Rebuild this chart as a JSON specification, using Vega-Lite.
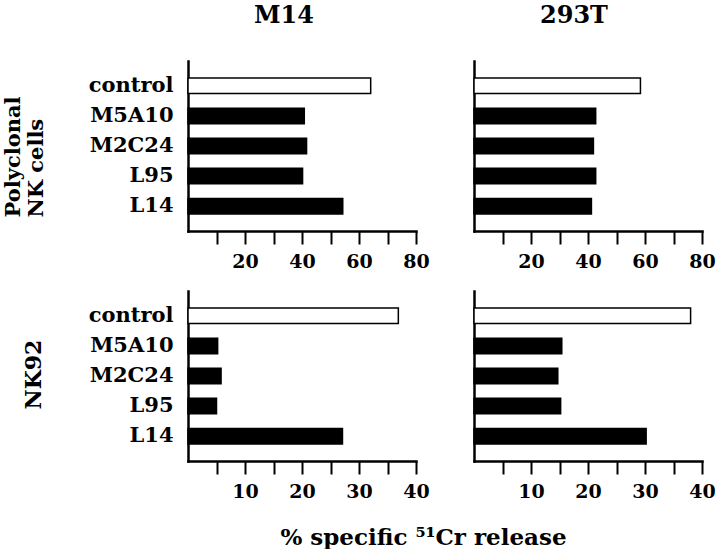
{
  "$schema": "https://vega.github.io/schema/vega-lite/v6.json",
  "background": "white",
  "padding": {"left": 2, "top": 4, "right": 0, "bottom": 0},
  "datasets": {
    "all": [
      {"effector": "Polyclonal", "target": "M14", "antibody": "control", "value": 64.1},
      {"effector": "Polyclonal", "target": "M14", "antibody": "M5A10", "value": 40.8},
      {"effector": "Polyclonal", "target": "M14", "antibody": "M2C24", "value": 41.6},
      {"effector": "Polyclonal", "target": "M14", "antibody": "L95", "value": 40.2},
      {"effector": "Polyclonal", "target": "M14", "antibody": "L14", "value": 54.3},
      {"effector": "Polyclonal", "target": "293T", "antibody": "control", "value": 58.4},
      {"effector": "Polyclonal", "target": "293T", "antibody": "M5A10", "value": 42.7},
      {"effector": "Polyclonal", "target": "293T", "antibody": "M2C24", "value": 41.9},
      {"effector": "Polyclonal", "target": "293T", "antibody": "L95", "value": 42.7},
      {"effector": "Polyclonal", "target": "293T", "antibody": "L14", "value": 41.2},
      {"effector": "NK92", "target": "M14", "antibody": "control", "value": 36.9},
      {"effector": "NK92", "target": "M14", "antibody": "M5A10", "value": 5.2},
      {"effector": "NK92", "target": "M14", "antibody": "M2C24", "value": 5.8},
      {"effector": "NK92", "target": "M14", "antibody": "L95", "value": 5.0},
      {"effector": "NK92", "target": "M14", "antibody": "L14", "value": 27.1},
      {"effector": "NK92", "target": "293T", "antibody": "control", "value": 38.0},
      {"effector": "NK92", "target": "293T", "antibody": "M5A10", "value": 15.4},
      {"effector": "NK92", "target": "293T", "antibody": "M2C24", "value": 14.7},
      {"effector": "NK92", "target": "293T", "antibody": "L95", "value": 15.2},
      {"effector": "NK92", "target": "293T", "antibody": "L14", "value": 30.2}
    ]
  },
  "columns": 2,
  "spacing": {"row": 60, "column": 58},
  "bounds": "flush",
  "concat": [
    {
      "width": 228, "height": 170,
      "title": {"text": "M14", "anchor": "middle", "dx": -18, "offset": 33, "font": "DejaVu Serif", "fontSize": 24, "fontWeight": "bold", "color": "black"},
      "data": {"name": "all"},
      "transform": [{"filter": "datum.effector === 'Polyclonal' && datum.target === 'M14'"}],
      "mark": {"type": "bar", "stroke": "black", "strokeWidth": 1.5},
      "encoding": {
        "y": {"field": "antibody", "type": "nominal", "sort": ["control", "M5A10", "M2C24", "L95", "L14"],
              "scale": {"paddingInner": 0.485, "paddingOuter": 0.566},
              "axis": {"title": ["Polyclonal", "NK cells"], "titleX": -169, "titleY": 156, "titleAngle": -90, "titleAlign": "left", "titleBaseline": "alphabetic", "titleLineHeight": 23, "titleFont": "DejaVu Serif", "titleFontSize": 21, "titleFontWeight": "bold", "titleColor": "black", "ticks": false, "labelPadding": 15, "labelFontSize": 21}},
        "x": {"field": "value", "type": "quantitative", "scale": {"domain": [0, 80], "nice": false},
              "axis": {"title": null, "values": [10, 20, 30, 40, 50, 60, 70, 80], "labelExpr": "datum.value % 20 === 0 ? datum.label : ''"}},
        "fill": {"condition": {"test": "datum.antibody === 'control'", "value": "white"}, "value": "black"}
      }
    },
    {
      "width": 228, "height": 170,
      "title": {"text": "293T", "anchor": "middle", "dx": -14, "offset": 33, "font": "DejaVu Serif", "fontSize": 24, "fontWeight": "bold", "color": "black"},
      "data": {"name": "all"},
      "transform": [{"filter": "datum.effector === 'Polyclonal' && datum.target === '293T'"}],
      "mark": {"type": "bar", "stroke": "black", "strokeWidth": 1.5},
      "encoding": {
        "y": {"field": "antibody", "type": "nominal", "sort": ["control", "M5A10", "M2C24", "L95", "L14"],
              "scale": {"paddingInner": 0.485, "paddingOuter": 0.566},
              "axis": {"title": null, "ticks": false, "labels": false}},
        "x": {"field": "value", "type": "quantitative", "scale": {"domain": [0, 80], "nice": false},
              "axis": {"title": null, "values": [10, 20, 30, 40, 50, 60, 70, 80], "labelExpr": "datum.value % 20 === 0 ? datum.label : ''"}},
        "fill": {"condition": {"test": "datum.antibody === 'control'", "value": "white"}, "value": "black"}
      }
    },
    {
      "width": 228, "height": 170,
      "data": {"name": "all"},
      "transform": [{"filter": "datum.effector === 'NK92' && datum.target === 'M14'"}],
      "mark": {"type": "bar", "stroke": "black", "strokeWidth": 1.5},
      "encoding": {
        "y": {"field": "antibody", "type": "nominal", "sort": ["control", "M5A10", "M2C24", "L95", "L14"],
              "scale": {"paddingInner": 0.485, "paddingOuter": 0.566},
              "axis": {"title": "NK92", "titleX": -148, "titleY": 83, "titleAngle": -90, "titleAlign": "center", "titleBaseline": "alphabetic", "titleFont": "DejaVu Serif", "titleFontSize": 22, "titleFontWeight": "bold", "titleColor": "black", "ticks": false, "labelPadding": 15, "labelFontSize": 21}},
        "x": {"field": "value", "type": "quantitative", "scale": {"domain": [0, 40], "nice": false},
              "axis": {"title": "% specific ⁵¹Cr release", "titleX": 235, "titleY": 83, "titleAlign": "center", "titleBaseline": "alphabetic", "titleFont": "DejaVu Serif", "titleFontSize": 23, "titleFontWeight": "bold", "titleColor": "black", "values": [5, 10, 15, 20, 25, 30, 35, 40], "labelExpr": "datum.value % 10 === 0 ? datum.label : ''"}},
        "fill": {"condition": {"test": "datum.antibody === 'control'", "value": "white"}, "value": "black"}
      }
    },
    {
      "width": 228, "height": 170,
      "data": {"name": "all"},
      "transform": [{"filter": "datum.effector === 'NK92' && datum.target === '293T'"}],
      "mark": {"type": "bar", "stroke": "black", "strokeWidth": 1.5},
      "encoding": {
        "y": {"field": "antibody", "type": "nominal", "sort": ["control", "M5A10", "M2C24", "L95", "L14"],
              "scale": {"paddingInner": 0.485, "paddingOuter": 0.566},
              "axis": {"title": null, "ticks": false, "labels": false}},
        "x": {"field": "value", "type": "quantitative", "scale": {"domain": [0, 40], "nice": false},
              "axis": {"title": null, "values": [5, 10, 15, 20, 25, 30, 35, 40], "labelExpr": "datum.value % 10 === 0 ? datum.label : ''"}},
        "fill": {"condition": {"test": "datum.antibody === 'control'", "value": "white"}, "value": "black"}
      }
    }
  ],
  "config": {
    "view": {"stroke": null},
    "font": "DejaVu Serif",
    "axis": {
      "grid": false,
      "domainColor": "black",
      "domainWidth": 2.5,
      "domainCap": "square",
      "tickColor": "black",
      "tickWidth": 2,
      "tickSize": 13,
      "labelFont": "DejaVu Serif",
      "labelFontWeight": "bold",
      "labelFontSize": 19,
      "labelColor": "black",
      "labelPadding": 8,
      "labelFlush": false,
      "labelOverlap": false
    }
  }
}
